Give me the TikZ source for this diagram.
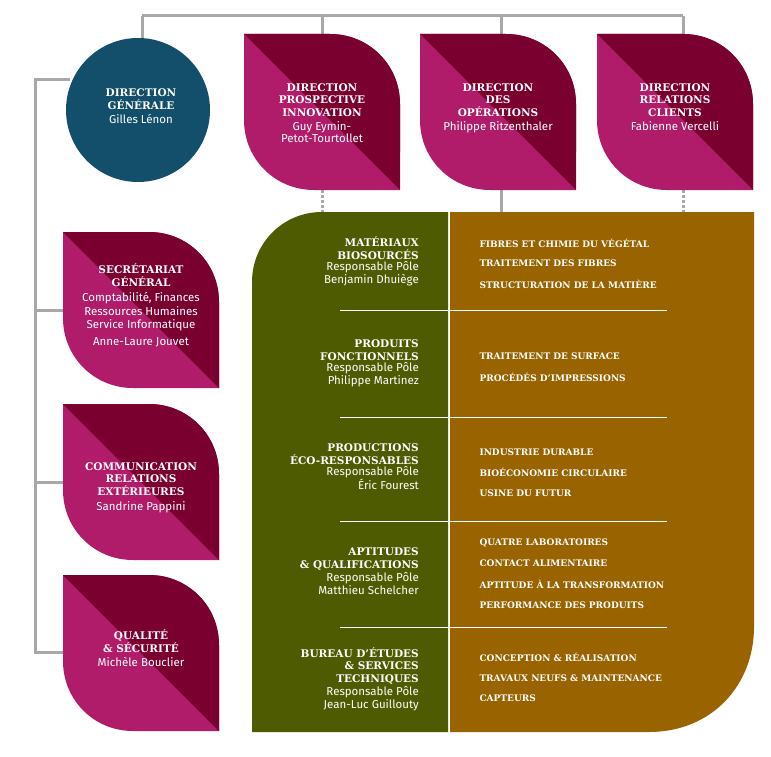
\documentclass[tikz,border=0pt]{standalone}
\usepackage{fontspec}
\usetikzlibrary{positioning}
\setmainfont{Fira Sans}
\newfontfamily\slab{DejaVu Serif}
\definecolor{bleu}{HTML}{134E6B}
\definecolor{pourpre}{HTML}{7A0030}
\definecolor{rose}{HTML}{B01C6A}
\definecolor{olive}{HTML}{4F5B00}
\definecolor{ocre}{HTML}{996300}
\definecolor{trait}{HTML}{A8A8A8}
\newcommand\leaf[2]{%
  \fill[rose] (#1,#2) -- ({#1+86},#2) .. controls ({#1+125},#2) and ({#1+156},{#2+31}) .. ({#1+156},{#2+70})
    -- ({#1+156},{#2+156}) -- ({#1+70},{#2+156}) .. controls ({#1+31},{#2+156}) and (#1,{#2+125}) .. (#1,{#2+86}) -- cycle;
  \begin{scope}
    \clip (#1,#2) -- ({#1+86},#2) .. controls ({#1+125},#2) and ({#1+156},{#2+31}) .. ({#1+156},{#2+70}) -- ({#1+156},{#2+156}) -- cycle;
    \fill[pourpre] (#1,#2) -- ({#1+160},#2) -- ({#1+156},{#2+156}) -- cycle;
  \end{scope}}
\tikzset{
  titre/.style={text=white,align=center,inner sep=1pt,font=\slab\bfseries\fontsize{10.5}{12.5}\selectfont},
  nom/.style={text=white,align=center,inner sep=1pt,font=\fontsize{11.5}{12.5}\selectfont},
  pole/.style={text=white,align=right,anchor=east,inner sep=1pt,font=\slab\bfseries\fontsize{10.5}{12.5}\selectfont},
  labo/.style={text=white,anchor=west,font=\slab\bfseries\fontsize{9}{10}\selectfont},
  lien/.style={trait,line width=3pt},
  pointille/.style={trait,line width=3pt,dotted}
}
\begin{document}
\begin{tikzpicture}[x=1pt,y=-1pt]
\useasboundingbox (0,0) rectangle (771,757);
% liaisons
\coordinate (h0) at (142,16); \coordinate (h1) at (322,16);
\coordinate (h2) at (501,16); \coordinate (h3) at (683,16);
\coordinate (g0) at (35,80); \coordinate (g1) at (35,310);
\coordinate (g2) at (35,482); \coordinate (g3) at (35,652);
\draw[lien] (h0) -- (h3);
\draw[lien] (h0) -- (142,40); \draw[lien] (h1) -- (322,36);
\draw[lien] (h2) -- (501,36); \draw[lien] (h3) -- (683,36);
\draw[lien] (70,80) -- (g0) -- (g3) -- (66,652);
\draw[lien] (g1) -- (66,310); \draw[lien] (g2) -- (66,482);
\draw[pointille] (322,190) -- (322,212);
\draw[lien] (501,190) -- (501,212);
\draw[pointille] (683,190) -- (683,212);
% direction generale
\fill[bleu] (138,110) circle (72);
\node[titre] (dg) at (141,99) {DIRECTION\\GÉNÉRALE};
\node[nom,below=3pt of dg] (dgn) {Gilles Lénon};
% directions
\leaf{244}{34} \leaf{420}{34} \leaf{597}{34}
\leaf{63}{232} \leaf{63}{404} \leaf{63}{575}
\node[titre] (dpi) at (322,100) {DIRECTION\\PROSPECTIVE\\INNOVATION};
\node[nom,below=3pt of dpi,font=\fontsize{11.5}{11.5}\selectfont] {Guy Eymin-\\Petot-Tourtollet};
\node[titre] (ddo) at (498,100) {DIRECTION\\DES\\OPÉRATIONS};
\node[nom,below=3pt of ddo] {Philippe Ritzenthaler};
\node[titre] (drc) at (675,100) {DIRECTION\\RELATIONS\\CLIENTS};
\node[nom,below=3pt of drc] {Fabienne Vercelli};
\node[titre] (sg) at (141,275) {SECRÉTARIAT\\GÉNÉRAL};
\node[nom,below=4pt of sg,font=\fontsize{11.5}{13.5}\selectfont] (sgs) {Comptabilité, Finances\\Ressources Humaines\\Service Informatique};
\node[nom,below=4pt of sgs] {Anne-Laure Jouvet};
\node[titre] (com) at (141,479) {COMMUNICATION\\RELATIONS\\EXTÉRIEURES};
\node[nom,below=4pt of com] {Sandrine Pappini};
\node[titre] (qs) at (141,641) {QUALITÉ\\\& SÉCURITÉ};
\node[nom,below=3pt of qs] {Michèle Bouclier};
% poles
\fill[olive] (252,732) -- (252,282) .. controls (252,243) and (283,212) .. (322,212) -- (448,212) -- (448,732) -- cycle;
\fill[ocre] (450,212) -- (754,212) -- (754,627) .. controls (754,685) and (712,732) .. (649,732) -- (450,732) -- cycle;
\foreach \y in {310,417,521,627} \draw[white,line width=1pt] (340,\y) -- (667,\y);
\node[pole] (p1) at (420,248) {MATÉRIAUX\\BIOSOURCÉS};
\node[nom,align=right,anchor=north east] at (p1.south east) {Responsable Pôle\\Benjamin Dhuiège};
\node[pole] (p2) at (420,350) {PRODUITS\\FONCTIONNELS};
\node[nom,align=right,anchor=north east] at (p2.south east) {Responsable Pôle\\Philippe Martinez};
\node[pole] (p3) at (420,454) {PRODUCTIONS\\ÉCO-RESPONSABLES};
\node[nom,align=right,anchor=north east] at (p3.south east) {Responsable Pôle\\Éric Fourest};
\node[pole] (p4) at (420,559) {APTITUDES\\\& QUALIFICATIONS};
\node[nom,align=right,anchor=north east] at (p4.south east) {Responsable Pôle\\Matthieu Schelcher};
\node[pole] (p5) at (420,666) {BUREAU D’ÉTUDES\\\& SERVICES\\TECHNIQUES};
\node[nom,align=right,anchor=north east] at (p5.south east) {Responsable Pôle\\Jean-Luc Guillouty};
% laboratoires
\node[labo] (l11) at (476,243) {FIBRES ET CHIMIE DU VÉGÉTAL};
\node[labo] (l12) at (476,263) {TRAITEMENT DES FIBRES};
\node[labo] (l13) at (476,284) {STRUCTURATION DE LA MATIÈRE};
\node[labo] (l21) at (476,356) {TRAITEMENT DE SURFACE};
\node[labo] (l22) at (476,377) {PROCÉDÉS D’IMPRESSIONS};
\node[labo] (l31) at (476,452) {INDUSTRIE DURABLE};
\node[labo] (l32) at (476,472) {BIOÉCONOMIE CIRCULAIRE};
\node[labo] (l33) at (476,493) {USINE DU FUTUR};
\node[labo] (l41) at (476,543) {QUATRE LABORATOIRES};
\node[labo] (l42) at (476,563) {CONTACT ALIMENTAIRE};
\node[labo] (l43) at (476,584) {APTITUDE À LA TRANSFORMATION};
\node[labo] (l44) at (476,605) {PERFORMANCE DES PRODUITS};
\node[labo] (l51) at (476,657) {CONCEPTION \& RÉALISATION};
\node[labo] (l52) at (476,678) {TRAVAUX NEUFS \& MAINTENANCE};
\node[labo] (l53) at (476,698) {CAPTEURS};
\end{tikzpicture}
\end{document}
